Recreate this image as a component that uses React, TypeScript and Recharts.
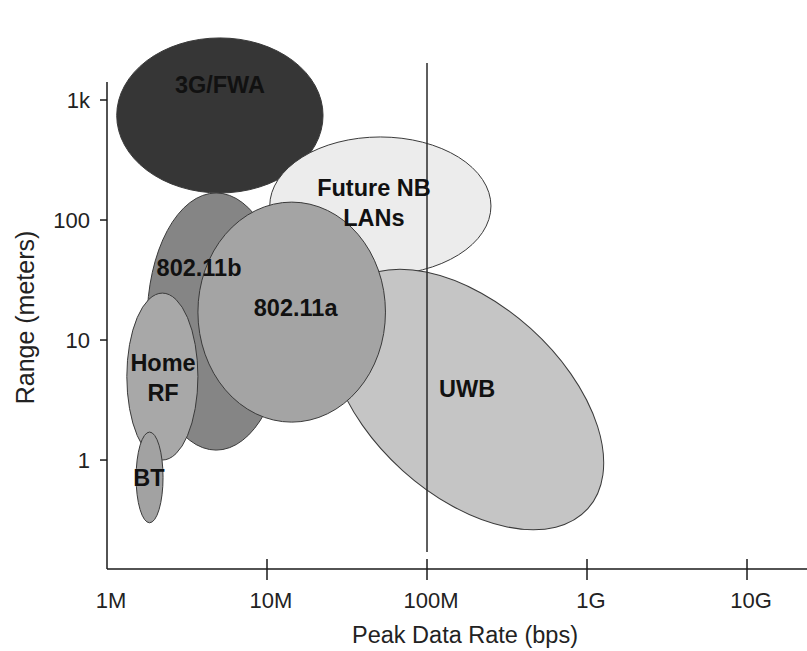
import React from "react";
import {
    ScatterChart,
    XAxis,
    YAxis,
    ReferenceArea,
    ReferenceLine,
    ReferenceDot,
} from "recharts";

// Technologies, in drawing order (later ones sit on top)
const techs = ["3G/FWA", "802.11b", "Future NB LANs", "UWB", "802.11a", "Home RF", "BT"];
// Extent of each ellipse: peak data rate (bps) and range (meters)
const rateMin = [1.15e6, 1.78e6, 10.4e6, 16.9e6, 3.7e6, 1.33e6, 1.52e6];
const rateMax = [22.4e6, 13e6, 251e6, 1.85e9, 55e6, 3.7e6, 2.24e6];
const rangeMin = [168, 1.21, 34.8, 0.51, 2.07, 1.0, 0.3];
const rangeMax = [3290, 168, 492, 20, 141, 24.6, 1.71];
// UWB is drawn tilted
const tiltDeg = [0, 0, 0, 42, 0, 0, 0];
const fills = ["#363636", "#858585", "#ececec", "#c5c5c5", "#a4a4a4", "#a8a8a8", "#a2a2a2"];

// Labels
const labelText = ["3G/FWA", "802.11b", "Future NB\nLANs", "UWB", "802.11a", "Home\nRF", "BT"];
const labelRate = [5.08e6, 3.76e6, 46.6e6, 178e6, 15.1e6, 2.24e6, 1.83e6];
const labelRange = [1334, 39.8, 141, 3.98, 18.8, 4.9, 0.71];

// 100M boundary line
const boundaryRate = 1e8;
const boundaryRange = [0.171, 2033];

const xTicks = [1e6, 1e7, 1e8, 1e9, 1e10];
const xTickLabels = ["1M", "10M", "100M", "1G", "10G"];
const yTicks = [1, 10, 100, 1000];
const yTickLabels = ["1", "10", "100", "1k"];

const FONT = "'Liberation Sans', Arial, Helvetica, sans-serif";

const ellipseShape = (fill: string, tilt: number) => (props: any) => {
    const { x, y, width, height } = props;
    const cx = x + width / 2;
    const cy = y + height / 2;
    return (
        <ellipse
            cx={cx}
            cy={cy}
            rx={Math.abs(width) / 2}
            ry={Math.abs(height) / 2}
            fill={fill}
            stroke="#3a3a3a"
            strokeWidth={1}
            transform={tilt ? `rotate(${tilt} ${cx} ${cy})` : undefined}
        />
    );
};

const labelShape = (text: string) => (props: any) => {
    const { cx, cy } = props;
    const lines = text.split("\n");
    const lh = 30;
    return (
        <text
            textAnchor="middle"
            fontFamily={FONT}
            fontWeight="bold"
            fontSize={23.5}
            fill="#111"
        >
            {lines.map((l, i) => (
                <tspan
                    key={i}
                    x={cx}
                    y={cy + (i - (lines.length - 1) / 2) * lh}
                    dy="0.36em"
                >
                    {l}
                </tspan>
            ))}
        </text>
    );
};

const XTick = (props: any) => {
    const { x, y, payload } = props;
    const idx = xTicks.indexOf(payload.value);
    return (
        <g>
            {payload.value > xTicks[0] && (
                <line x1={x} x2={x} y1={y - 10} y2={y + 11} stroke="#1a1a1a" strokeWidth={1.5} />
            )}
            <text
                x={x + 4}
                y={y + 39}
                textAnchor="middle"
                fontFamily={FONT}
                fontSize={22}
                fill="#222"
            >
                {xTickLabels[idx]}
            </text>
        </g>
    );
};

export default function App() {
    return (
        <div style={{ position: "absolute", left: 0, top: 0, background: "#fff" }}>
            <ScatterChart
                width={807}
                height={651}
                margin={{ top: 82, right: 0, bottom: 0, left: 0 }}
            >
                <XAxis
                    type="number"
                    dataKey="rate"
                    scale="log"
                    domain={[1e6, 2.371e10]}
                    allowDataOverflow
                    ticks={xTicks}
                    interval={0}
                    height={82}
                    tickSize={0}
                    tickMargin={0}
                    tickLine={false}
                    tick={<XTick />}
                    axisLine={{ stroke: "#1a1a1a", strokeWidth: 1.5 }}
                    label={(p: any) => {
                        const vb = p.viewBox;
                        return (
                            <text
                                x={vb.x + vb.width / 2 + 8}
                                y={vb.y + 74}
                                textAnchor="middle"
                                fontFamily={FONT}
                                fontSize={23.5}
                                fill="#222"
                            >
                                Peak Data Rate (bps)
                            </text>
                        );
                    }}
                />
                <YAxis
                    type="number"
                    dataKey="range"
                    scale="log"
                    domain={[0.1236, 1412.5]}
                    allowDataOverflow
                    ticks={yTicks}
                    interval={0}
                    width={107}
                    tickSize={7}
                    tickMargin={10}
                    tickFormatter={(v: number) => yTickLabels[yTicks.indexOf(v)]}
                    tick={{ fontFamily: FONT, fontSize: 22, fill: "#222" }}
                    tickLine={{ stroke: "#1a1a1a", strokeWidth: 1.5 }}
                    axisLine={{ stroke: "#1a1a1a", strokeWidth: 1.5 }}
                    label={(p: any) => {
                        const vb = p.viewBox;
                        const cx = vb.x + 25;
                        const cy = vb.y + vb.height / 2 - 8;
                        return (
                            <text
                                x={cx}
                                y={cy}
                                transform={`rotate(-90 ${cx} ${cy})`}
                                textAnchor="middle"
                                dy="0.36em"
                                fontFamily={FONT}
                                fontSize={25}
                                fill="#222"
                            >
                                Range (meters)
                            </text>
                        );
                    }}
                />

                {techs.map((t, i) => (
                    <ReferenceArea
                        key={t}
                        x1={rateMin[i]}
                        x2={rateMax[i]}
                        y1={rangeMin[i]}
                        y2={rangeMax[i]}
                        ifOverflow="visible"
                        shape={ellipseShape(fills[i], tiltDeg[i])}
                    />
                ))}

                <ReferenceLine
                    segment={[
                        { x: boundaryRate, y: boundaryRange[0] },
                        { x: boundaryRate, y: boundaryRange[1] },
                    ]}
                    stroke="#2a2a2a"
                    strokeWidth={1.5}
                    ifOverflow="visible"
                />

                {labelText.map((t, i) => (
                    <ReferenceDot
                        key={t}
                        x={labelRate[i]}
                        y={labelRange[i]}
                        r={1}
                        ifOverflow="visible"
                        shape={labelShape(t)}
                    />
                ))}
            </ScatterChart>
        </div>
    );
}
